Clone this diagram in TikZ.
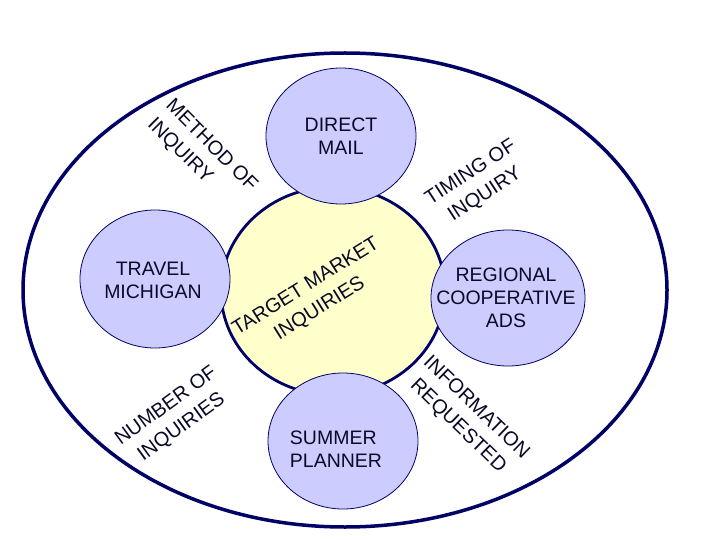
\documentclass[tikz,border=0pt]{standalone}
\usepackage{fontspec}
\setmainfont{Liberation Sans}
\usetikzlibrary{shapes.geometric}
\definecolor{navy}{RGB}{0,0,102}
\definecolor{lav}{RGB}{204,204,255}
\definecolor{pale}{RGB}{255,255,204}
\definecolor{ink}{RGB}{10,10,40}
\begin{document}
\begin{tikzpicture}[x=1pt,y=-1pt,
  outerring/.style={ellipse, draw=navy, line width=3.5pt, fill=white, inner sep=0pt},
  core/.style={ellipse, draw=navy, line width=2.8pt, fill=pale, inner sep=0pt},
  source/.style={ellipse, draw=navy, line width=0.8pt, fill=lav, inner sep=0pt,
                 minimum width=150pt, minimum height=136pt},
  lbl/.style={text=ink, align=center, inner sep=0pt,
              font=\fontsize{19.5}{23}\selectfont},
  dim/.style={text=ink, inner sep=0pt, font=\fontsize{20}{26}\selectfont}]
\useasboundingbox (0,0) rectangle (720,540);
\node[outerring, minimum width=644pt, minimum height=474pt] (ring) at (345,290) {};
\node[core, minimum width=224pt, minimum height=208pt] (tmi) at (333,291) {};
\node[source] (dm) at (341,136) {};
\node[source, minimum height=138pt] (tm) at (155,279) {};
\node[source, minimum width=154pt] (rc) at (508,298) {};
\node[source] (sp) at (343,441) {};
\node[lbl] (dmt) at (dm.center) {DIRECT\\MAIL};
\node[lbl] (tmt) at (153,280) {TRAVEL\\MICHIGAN};
\node[lbl] (rct) at (506,298) {REGIONAL\\COOPERATIVE\\ADS};
\node[lbl, align=left] (spt) at (336,449) {SUMMER\\PLANNER};
\node[dim, align=center, rotate=32] (tmit) at (313,298) {TARGET MARKET\\INQUIRIES};
\node[dim, align=left, rotate=-45] (moi) at (202,155) {METHOD OF\\INQUIRY};
\node[dim, align=center, rotate=33] (toi) at (478,184) {TIMING OF\\INQUIRY};
\node[dim, align=center, rotate=36] (noi) at (174,417) {NUMBER OF\\INQUIRIES};
\node[dim, align=center, rotate=-44] (ir) at (467,417) {INFORMATION\\REQUESTED};
\end{tikzpicture}
\end{document}
